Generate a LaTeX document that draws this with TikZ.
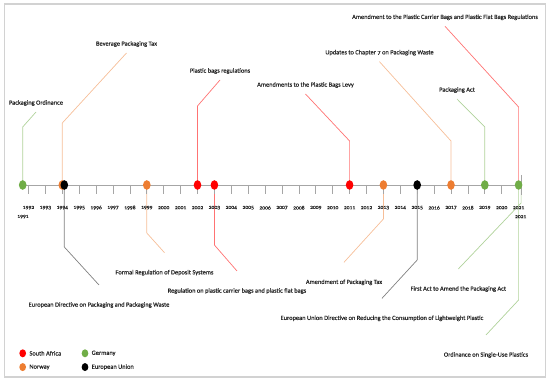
\documentclass[tikz,border=0pt]{standalone}
\usepackage{fontspec}
\setmainfont[Numbers=OldStyle, FakeBold=0.35]{Carlito}
\usetikzlibrary{positioning,shapes.geometric,backgrounds}
\definecolor{saRed}{HTML}{FF0000}
\definecolor{noOrange}{HTML}{ED7D31}
\definecolor{deGreen}{HTML}{70AD47}
\definecolor{axisGray}{HTML}{A6A6A6}

\begin{document}
\begin{tikzpicture}[x=1pt, y=1pt,
                node distance=5pt,
                evt/.style={ellipse, inner sep=0pt, minimum width=7.6pt, minimum height=9.6pt},
                ldot/.style={ellipse, inner sep=0pt, minimum width=6.7pt, minimum height=8pt},
                lbl/.style={font=\fontsize{6.4}{7}\selectfont, text=black!85, inner sep=0pt},
                yr/.style={font=\fontsize{5.6}{6}\selectfont, text=black!85, inner sep=0pt},
                rline/.style={draw=saRed!55, line width=0.7pt},
                oline/.style={draw=noOrange!50, line width=0.7pt},
                gline/.style={draw=deGreen!55, line width=0.7pt},
                kline/.style={draw=black!50, line width=0.7pt}]
                \useasboundingbox (0,0) rectangle (550,383);
                \draw[gray!35, line width=1.2pt] (4.5,6) rectangle (545.5,379);

                % axis, ticks and years
                \draw[axisGray, line width=0.9pt] (22,198) -- (521,198);
                \draw[axisGray, line width=0.9pt] (521,208) -- (521,188);
                \foreach \yr in {1992,...,2020}
                    \draw[axisGray, line width=0.8pt] ({28.5+(\yr-1992)*16.9},198) -- ++(0,-9);
                \foreach \yr in {1992,...,2021}
                    \node[yr] at ({28.5+(\yr-1992)*16.9},175.3) {\yr};
                \node[yr] at (23,166.3) {1991};
                \node[yr] at (520.7,166.3) {2021};

                % events on the axis
                \node[evt, fill=deGreen] (g91) at (22.7,198) {};
                \node[evt, fill=noOrange] (o94) at (62.3,198) {};
                \node[evt, fill=black] (k94) at (64.3,198) {};
                \node[evt, fill=noOrange] (o99) at (146.8,198) {};
                \node[evt, fill=saRed] (r02) at (197.5,198) {};
                \node[evt, fill=saRed] (r03) at (214.4,198) {};
                \node[evt, fill=saRed] (r11) at (349.6,198) {};
                \node[evt, fill=noOrange] (o13) at (383.4,198) {};
                \node[evt, fill=black] (k15) at (417.2,198) {};
                \node[evt, fill=noOrange] (o17) at (451,198) {};
                \node[evt, fill=deGreen] (g19) at (484.8,198) {};
                \node[evt, fill=deGreen] (g21) at (518.6,198) {};

                % labels above
                \node[lbl] (t1) at (36,280) {Packaging Ordinance};
                \node[lbl] (t2) at (126.5,339) {Beverage Packaging Tax};
                \node[lbl] (t3) at (220,312) {Plastic bags regulations};
                \node[lbl] (t4) at (305.5,298) {Amendments to the Plastic Bags Levy};
                \node[lbl] (t5) at (379.5,330.3) {Updates to Chapter 7 on Packaging Waste};
                \node[lbl] (t6) at (457,293) {Packaging Act};
                \node[lbl] (t7) at (445,365.7) {Amendment to the Plastic Carrier Bags and Plastic Flat Bags Regulations};

                % labels below
                \node[lbl] (b1) at (99,78) {European Directive on Packaging and Packaging Waste};
                \node[lbl] (b2) at (164.5,110.3) {Formal Regulation of Deposit Systems};
                \node[lbl] (b3) at (237,92) {Regulation on plastic carrier bags and plastic flat bags};
                \node[lbl] (b4) at (344,100.7) {Amendment of Packaging Tax};
                \node[lbl] (b5) at (382,64.7) {European Union Directive on Reducing the Consumption of Lightweight Plastic};
                \node[lbl] (b6) at (458.3,94) {First Act to Amend the Packaging Act};
                \node[lbl] (b7) at (486,28) {Ordinance on Single-Use Plastics};

                \begin{scope}[on background layer]
                    \draw[gline] (g91.center) -- ++(0,58) -- ([yshift=-9pt]t1.center);
                    \draw[oline] (o94.center) -- ++(0,62) -- ([yshift=-9pt]t2.center);
                    \draw[rline] (r02.center) -- ++(0,79) -- ([yshift=-9pt]t3.center);
                    \draw[rline] (r11.center) -- ++(0,44) -- ([yshift=-9pt]t4.center);
                    \draw[oline] (o17.center) -- ++(0,44) -- ([yshift=-9pt]t5.center);
                    \draw[gline] (g19.center) -- ++(0,58) -- ([yshift=-9pt]t6.center);
                    \draw[rline] (g21.center) -- ++(0,78) -- ([yshift=-9pt]t7.center);
                    \draw[kline] (k94.center) -- ++(0,-62) -- ([yshift=20pt]b1.center);
                    \draw[oline] (o99.center) -- ++(0,-48) -- ([yshift=20pt]b2.center);
                    \draw[rline] (r03.center) -- ++(0,-60) -- ([yshift=20pt]b3.center);
                    \draw[oline] (o13.center) -- ++(0,-34) -- ([yshift=20pt]b4.center);
                    \draw[kline] (k15.center) -- ++(0,-75) -- ([yshift=20pt]b5.center);
                    \draw[gline] ([xshift=2.5pt]g21.center) -- ++(0,-18) -- ([yshift=20pt]b6.center);
                    \draw[gline] (g21.center) -- ++(0,-115) -- ([yshift=20pt]b7.center);
                \end{scope}

                % legend
                \node[ldot, fill=saRed] (lsa) at (22.7,29.7) {};
                \node[lbl, right=3pt of lsa] (lsat) {South Africa};
                \node[ldot, fill=noOrange, below=5.4pt of lsa] (lno) {};
                \node[lbl, right=3pt of lno] (lnot) {Norway};
                \node[ldot, fill=deGreen] (lde) at (85,29.7) {};
                \node[lbl, right=3pt of lde] (ldet) {Germany};
                \node[ldot, fill=black, below=5.4pt of lde] (leu) {};
                \node[lbl, right=3pt of leu] (leut) {European Union};
            \end{tikzpicture}
\end{document}
